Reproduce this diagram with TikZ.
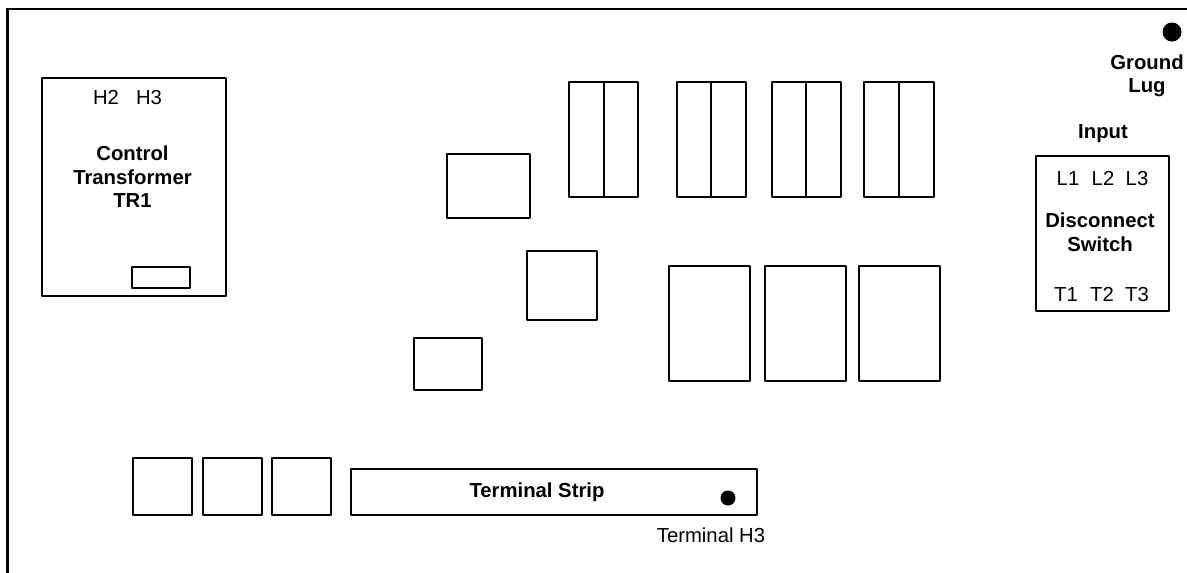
\documentclass[tikz,border=0pt]{standalone}
\usepackage{fontspec}
\setmainfont{Liberation Sans}
\newcommand{\bxx}[5]{\node[panelbox,minimum width={(#4-#2)*1pt},minimum height={(#5-#3)*1pt}] (#1) at ({(#2+#4)/2},{(#3+#5)/2}) {};}
\tikzset{
  panelbox/.style={draw=black,line width=2.8pt,fill=none,inner sep=0pt,outer sep=0pt,rectangle,line join=round},
  edgeline/.style={draw=black,line width=2.8pt},
  plain/.style={font=\fontsize{20.3}{23.5}\selectfont,inner sep=0pt,align=center,text=black,anchor=base},
  bold/.style={font=\fontsize{20.3}{23.5}\selectfont\bfseries,inner sep=0pt,align=center,text=black},
  blob/.style={circle,fill=black,draw=none,inner sep=0pt}
}
\begin{document}
\begin{tikzpicture}[x=1pt,y=-1pt]
\useasboundingbox (0,0) rectangle (1187,573);
\coordinate (fa) at (7.5,573);
\coordinate (fb) at (7.5,9);
\coordinate (fc) at (1187,9);
\draw[edgeline,line join=miter] (fa) -- (fb) -- (fc);
% transformer
\bxx{tr}{42}{78}{226}{296}
\bxx{trs}{132}{267}{190}{288}
\node[plain] (h2) at (106,104) {H2};
\node[plain] (h3) at (149,104) {H3};
\node[bold] (trl) at (132.5,177) {Control\\Transformer\\TR1};
% contactors
\bxx{ca}{569}{82}{638}{197}
\bxx{cb}{677}{82}{746}{197}
\bxx{cc}{772}{82}{841}{197}
\bxx{cd}{864}{82}{934}{197}
\draw[edgeline] (604,82) -- (604,197);
\draw[edgeline] (711,82) -- (711,197);
\draw[edgeline] (806,82) -- (806,197);
\draw[edgeline] (899,82) -- (899,197);
% middle boxes
\bxx{ma}{447}{154}{530}{218}
\bxx{mb}{527}{251}{597}{320}
\bxx{mc}{414}{338}{482}{390}
\bxx{fa1}{669}{266}{750}{381}
\bxx{fa2}{765}{266}{846}{381}
\bxx{fa3}{859}{266}{940}{381}
% disconnect
\bxx{ds}{1036}{156}{1169}{311}
\node[plain] (l1) at (1068,185) {L1};
\node[plain] (l2) at (1103,185) {L2};
\node[plain] (l3) at (1137,185) {L3};
\node[bold] (dsl) at (1100,232) {Disconnect\\Switch};
\node[plain] (t1) at (1066,301) {T1};
\node[plain] (t2) at (1102,301) {T2};
\node[plain] (t3) at (1137,301) {T3};
\node[bold,anchor=base] (inp) at (1103,138) {Input};
\node[blob,minimum size=19pt] (gd) at (1172,32) {};
\node[bold] (gl) at (1147,76) {Ground\\Lug};
% bottom
\bxx{ba}{133}{458}{192}{515}
\bxx{bb}{203}{458}{262}{515}
\bxx{bc}{272}{458}{331}{515}
\bxx{ts}{351}{469}{757}{515}
\node[bold,anchor=base] (tsl) at (537,497) {Terminal Strip};
\node[blob,minimum size=15pt] (td) at (728,498) {};
\node[plain] (th) at (711,542) {Terminal H3};
\end{tikzpicture}
\end{document}
